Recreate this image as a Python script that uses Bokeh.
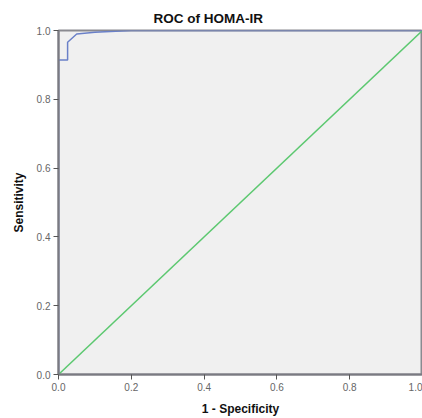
from bokeh.plotting import figure
from bokeh.models import Range1d, FixedTicker, Title, CustomJSTickFormatter
from bokeh.embed import file_html
from bokeh.resources import INLINE

fpr = [0.0, 0.0, 0.025, 0.025, 0.05, 0.10, 0.20, 1.0]
tpr = [0.0, 0.914, 0.914, 0.966, 0.99, 0.995, 1.0, 1.0]
ref_x = [0.0, 1.0]
ref_y = [0.0, 1.0]
ticks = [0.0, 0.2, 0.4, 0.6, 0.8, 1.0]

p = figure(width=422, height=418, output_backend="svg", toolbar_location=None,
           x_range=Range1d(0, 1), y_range=Range1d(0, 1),
           min_border_left=58, min_border_right=0, min_border_top=30, min_border_bottom=40)
p.background_fill_color = "#f0f0f0"
p.border_fill_color = "white"
p.outline_line_color = "#8a8a90"
p.outline_line_width = 2
p.xgrid.visible = False
p.ygrid.visible = False

t = Title(text="ROC of HOMA-IR", align="left", offset=95,
          text_font="Liberation Sans", text_font_size="13.5px", text_font_style="bold",
          text_color="#111111")
p.title = t

p.line(ref_x, ref_y, line_color="#5cc870", line_width=1.5)
p.line(fpr, tpr, line_color="#6a80c8", line_width=1.5)

for ax in (p.xaxis[0], p.yaxis[0]):
    ax.ticker = FixedTicker(ticks=ticks)
    ax.minor_tick_line_color = None
    ax.major_tick_in = 0
    ax.major_tick_out = 5
    ax.axis_line_color = "#7a7a82"
    ax.axis_line_width = 2
    ax.major_tick_line_color = "#555555"
    ax.major_label_text_font = "Liberation Sans"
    ax.major_label_text_font_size = "10px"
    ax.major_label_text_color = "#666666"
    ax.major_label_standoff = 3
    ax.axis_label_text_font = "Liberation Sans"
    ax.axis_label_text_font_style = "bold"
    ax.axis_label_text_font_size = "12px"
    ax.axis_label_text_color = "#111111"
    ax.axis_label_standoff = 8

p.xaxis.axis_label = "1 - Specificity"
p.yaxis.axis_label = "Sensitivity"
p.xaxis.formatter = CustomJSTickFormatter(code="return tick.toFixed(1);")
p.yaxis.formatter = CustomJSTickFormatter(code="return tick.toFixed(1);")

open("out.html", "w").write(file_html(p, INLINE))
